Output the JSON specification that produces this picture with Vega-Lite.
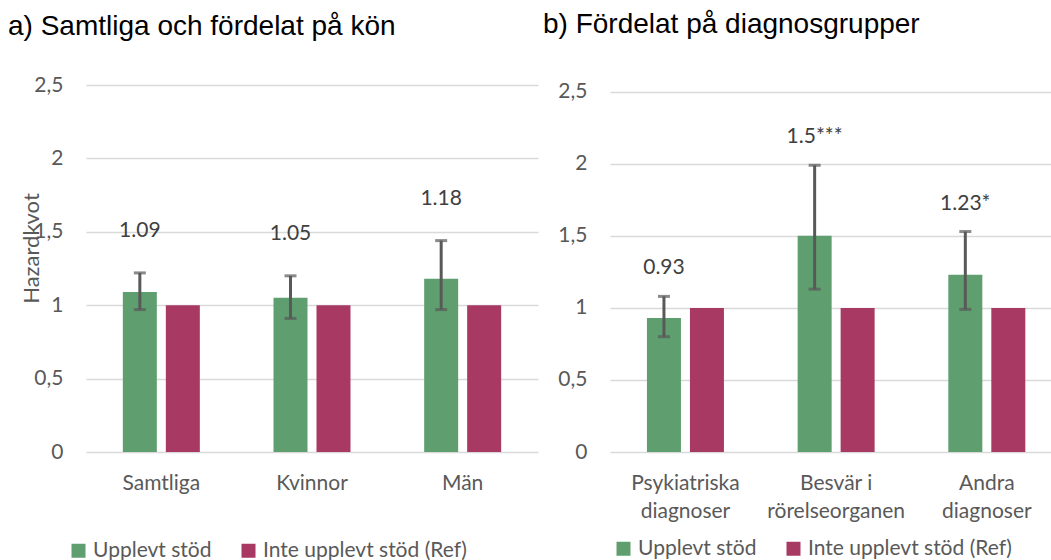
{
  "$schema": "https://vega.github.io/schema/vega-lite/v6.json",
  "padding": {"left": 8, "top": 10, "right": 0, "bottom": 0},
  "spacing": 5,
  "background": "#ffffff",
  "datasets": {
    "left": [
      {"category": "Samtliga", "group": "Upplevt stöd", "value": 1.09, "lo": 0.97, "hi": 1.22, "label": "1.09"},
      {"category": "Samtliga", "group": "Inte upplevt stöd (Ref)", "value": 1.0, "lo": null, "hi": null, "label": null},
      {"category": "Kvinnor", "group": "Upplevt stöd", "value": 1.05, "lo": 0.91, "hi": 1.2, "label": "1.05"},
      {"category": "Kvinnor", "group": "Inte upplevt stöd (Ref)", "value": 1.0, "lo": null, "hi": null, "label": null},
      {"category": "Män", "group": "Upplevt stöd", "value": 1.18, "lo": 0.97, "hi": 1.44, "label": "1.18"},
      {"category": "Män", "group": "Inte upplevt stöd (Ref)", "value": 1.0, "lo": null, "hi": null, "label": null}
    ],
    "right": [
      {"category": "Psykiatriska diagnoser", "group": "Upplevt stöd", "value": 0.93, "lo": 0.8, "hi": 1.08, "label": "0.93"},
      {"category": "Psykiatriska diagnoser", "group": "Inte upplevt stöd (Ref)", "value": 1.0, "lo": null, "hi": null, "label": null},
      {"category": "Besvär i rörelseorganen", "group": "Upplevt stöd", "value": 1.5, "lo": 1.13, "hi": 1.99, "label": "1.5***"},
      {"category": "Besvär i rörelseorganen", "group": "Inte upplevt stöd (Ref)", "value": 1.0, "lo": null, "hi": null, "label": null},
      {"category": "Andra diagnoser", "group": "Upplevt stöd", "value": 1.23, "lo": 0.99, "hi": 1.53, "label": "1.23*"},
      {"category": "Andra diagnoser", "group": "Inte upplevt stöd (Ref)", "value": 1.0, "lo": null, "hi": null, "label": null}
    ]
  },
  "config": {
    "font": "Lato",
    "view": {"stroke": null},
    "axis": {
      "labelFont": "Lato", "labelFontSize": 21, "labelColor": "#595959",
      "titleFont": "Lato", "titleFontSize": 22, "titleColor": "#595959", "titleFontWeight": "normal",
      "ticks": false, "domain": false, "gridColor": "#d9d9d9", "gridWidth": 1.3
    },
    "title": {"font": "Liberation Sans", "fontSize": 28, "fontWeight": "normal", "color": "#000000", "anchor": "start", "frame": "group"},
    "legend": {
      "orient": "none", "direction": "horizontal", "title": null, "symbolType": "square", "symbolSize": 196,
      "symbolStrokeWidth": 0, "labelFont": "Lato", "labelFontSize": 21, "labelColor": "#595959",
      "columnPadding": 26, "labelOffset": 4, "padding": 0, "labelLimit": 400
    }
  },
  "resolve": {"scale": {"x": "independent", "y": "independent", "color": "shared"}, "legend": {"color": "independent"}},
  "hconcat": [
    {
      "width": 452, "height": 367,
      "title": {"text": "a) Samtliga och fördelat på kön", "dx": -78, "offset": 33},
      "data": {"name": "left"},
      "encoding": {
        "x": {"field": "category", "type": "nominal", "sort": null,
              "scale": {"paddingInner": 0.489, "paddingOuter": 0.2445},
              "axis": {"title": null, "labelAngle": 0, "labelPadding": 20, "grid": false}},
        "xOffset": {"field": "group", "type": "nominal",
                    "scale": {"domain": ["Upplevt stöd", "Inte upplevt stöd (Ref)"], "paddingInner": 0.209, "paddingOuter": 0}}
      },
      "layer": [
        {
          "mark": {"type": "bar"},
          "encoding": {
            "y": {"field": "value", "type": "quantitative", "scale": {"domain": [0, 2.5], "nice": false},
                  "axis": {"values": [0, 0.5, 1, 1.5, 2, 2.5], "labelExpr": "replace(format(datum.value, '~g'), '.', ',')",
                           "labelPadding": 23, "grid": true, "title": "Hazardkvot",
                           "titleX": -55, "titleY": 163, "titleAngle": -90, "titleAlign": "center", "titleBaseline": "middle"}},
            "color": {"field": "group", "type": "nominal",
                      "scale": {"domain": ["Upplevt stöd", "Inte upplevt stöd (Ref)"], "range": ["#5F9E6F", "#A83963"]},
                      "legend": {"legendX": -18, "legendY": 455}}
          }
        },
        {
          "transform": [{"filter": "datum.hi != null"}],
          "mark": {"type": "rule", "strokeWidth": 3, "color": "#595959"},
          "encoding": {"y": {"field": "lo", "type": "quantitative"}, "y2": {"field": "hi"}}
        },
        {
          "transform": [{"filter": "datum.hi != null"}],
          "mark": {"type": "tick", "orient": "horizontal", "size": 12, "thickness": 3, "color": "#595959"},
          "encoding": {"y": {"field": "lo", "type": "quantitative"}}
        },
        {
          "transform": [{"filter": "datum.hi != null"}],
          "mark": {"type": "tick", "orient": "horizontal", "size": 12, "thickness": 3, "color": "#595959"},
          "encoding": {"y": {"field": "hi", "type": "quantitative"}}
        },
        {
          "transform": [{"filter": "datum.label != null"}],
          "mark": {"type": "text", "dy": -42, "fontSize": 21, "color": "#404040", "baseline": "middle"},
          "encoding": {"y": {"field": "hi", "type": "quantitative"}, "text": {"field": "label"}}
        }
      ]
    },
    {
      "width": 441, "height": 367,
      "title": {"text": "b) Fördelat på diagnosgrupper", "dx": -67, "offset": 42},
      "data": {"name": "right"},
      "encoding": {
        "x": {"field": "category", "type": "nominal", "sort": null,
              "scale": {"paddingInner": 0.489, "paddingOuter": 0.2078, "align": 0.59},
              "axis": {"title": null, "labelAngle": 0, "labelPadding": 20, "grid": false, "labelLineHeight": 28,
                       "labelExpr": "datum.label == 'Besvär i rörelseorganen' ? ['Besvär i', 'rörelseorganen'] : split(datum.label, ' ')"}},
        "xOffset": {"field": "group", "type": "nominal",
                    "scale": {"domain": ["Upplevt stöd", "Inte upplevt stöd (Ref)"], "paddingInner": 0.209, "paddingOuter": 0}}
      },
      "layer": [
        {
          "mark": {"type": "bar"},
          "encoding": {
            "y": {"field": "value", "type": "quantitative", "scale": {"domain": [0, 2.547], "nice": false},
                  "axis": {"values": [0, 0.5, 1, 1.5, 2, 2.5], "labelExpr": "replace(format(datum.value, '~g'), '.', ',')",
                           "labelPadding": 23, "grid": true, "title": null}},
            "color": {"field": "group", "type": "nominal",
                      "scale": {"domain": ["Upplevt stöd", "Inte upplevt stöd (Ref)"], "range": ["#5F9E6F", "#A83963"]},
                      "legend": {"legendX": 3, "legendY": 453}}
          }
        },
        {
          "transform": [{"filter": "datum.hi != null"}],
          "mark": {"type": "rule", "strokeWidth": 3, "color": "#595959"},
          "encoding": {"y": {"field": "lo", "type": "quantitative"}, "y2": {"field": "hi"}}
        },
        {
          "transform": [{"filter": "datum.hi != null"}],
          "mark": {"type": "tick", "orient": "horizontal", "size": 12, "thickness": 3, "color": "#595959"},
          "encoding": {"y": {"field": "lo", "type": "quantitative"}}
        },
        {
          "transform": [{"filter": "datum.hi != null"}],
          "mark": {"type": "tick", "orient": "horizontal", "size": 12, "thickness": 3, "color": "#595959"},
          "encoding": {"y": {"field": "hi", "type": "quantitative"}}
        },
        {
          "transform": [{"filter": "datum.label != null"}],
          "mark": {"type": "text", "dy": -28, "fontSize": 21, "color": "#404040", "baseline": "middle"},
          "encoding": {"y": {"field": "hi", "type": "quantitative"}, "text": {"field": "label"}}
        }
      ]
    }
  ]
}
